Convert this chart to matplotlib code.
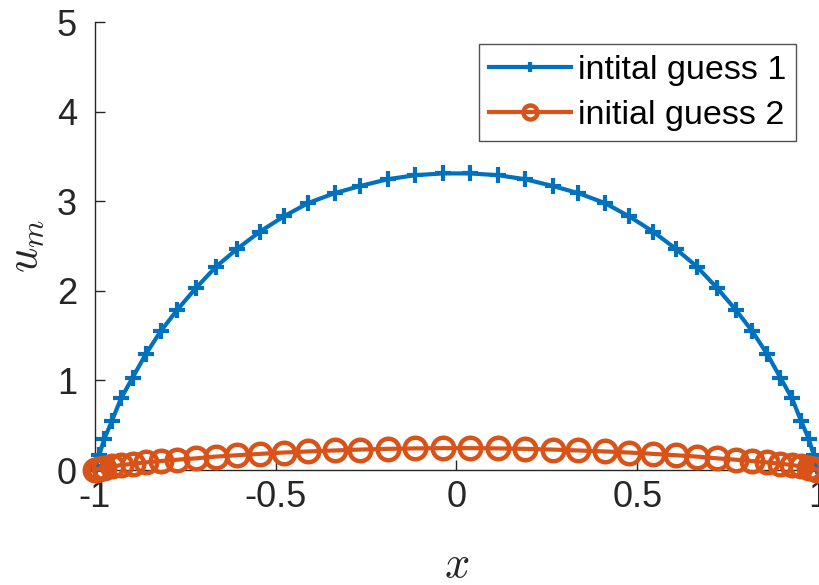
import numpy as np
import matplotlib
matplotlib.use("Agg")
import matplotlib.pyplot as plt

# Chebyshev-type node positions (42 points)
x_nodes = [-1.000, -0.997, -0.988, -0.974, -0.953, -0.928, -0.896, -0.860, -0.818, -0.772,
           -0.721, -0.665, -0.606, -0.544, -0.478, -0.410, -0.337, -0.266, -0.190, -0.115,
           -0.038, 0.038, 0.115, 0.190, 0.266, 0.337, 0.410, 0.478, 0.544, 0.606,
           0.665, 0.721, 0.772, 0.818, 0.860, 0.896, 0.928, 0.953, 0.974, 0.988,
           0.997, 1.000]

guess1 = [0.00, 0.05, 0.17, 0.35, 0.55, 0.80, 1.03, 1.29, 1.55, 1.79,
          2.03, 2.27, 2.47, 2.66, 2.83, 2.98, 3.09, 3.17, 3.245, 3.29,
          3.31, 3.31, 3.29, 3.245, 3.17, 3.09, 2.98, 2.83, 2.66, 2.47,
          2.27, 2.03, 1.79, 1.55, 1.29, 1.03, 0.80, 0.55, 0.35, 0.17,
          0.05, 0.00]

guess2 = [0.000, 0.005, 0.015, 0.025, 0.040, 0.055, 0.070, 0.085, 0.100, 0.115,
          0.130, 0.150, 0.165, 0.180, 0.195, 0.207, 0.218, 0.228, 0.236, 0.241,
          0.244, 0.244, 0.241, 0.236, 0.228, 0.218, 0.207, 0.195, 0.180, 0.165,
          0.150, 0.130, 0.115, 0.100, 0.085, 0.070, 0.055, 0.040, 0.025, 0.015,
          0.005, 0.000]

labels = ["intital guess 1", "initial guess 2"]
xticks = [-1, -0.5, 0, 0.5, 1]
xticklabels = ["-1", "-0.5", "0", "0.5", "1"]
yticks = [0, 1, 2, 3, 4, 5]

plt.rcParams['font.family'] = ['Liberation Sans', 'DejaVu Sans']
plt.rcParams['mathtext.fontset'] = 'cm'

fig = plt.figure(figsize=(8.2, 5.85), dpi=100)
ax = fig.add_axes([95/820, 115/585, 723/820, 448/585])

ax.plot(x_nodes, guess1, color='#0072BD', lw=3, marker='+', ms=11, mew=3,
        label=labels[0], clip_on=False, zorder=3)
ax.plot(x_nodes, guess2, color='#D95319', lw=3, marker='o', ms=15.5, mew=3.2,
        mfc='none', label=labels[1], clip_on=False, zorder=4)

ax.set_xlim(-1, 1)
ax.set_ylim(0, 5)
ax.set_xticks(xticks)
ax.set_xticklabels(xticklabels)
ax.set_yticks(yticks)
ax.tick_params(direction='in', length=7, width=1, colors='#262626',
               labelsize=26, labelcolor='#262626')
ax.tick_params(axis='x', pad=7)
ax.tick_params(axis='y', pad=13)
for s in ['top', 'right']:
    ax.spines[s].set_visible(False)
for s in ['left', 'bottom']:
    ax.spines[s].set_color('#262626')
    ax.spines[s].set_linewidth(1)

ax.set_xlabel(r'$x$', fontsize=32, color='#262626', labelpad=22)
ax.set_ylabel(r'$u_m$', fontsize=32, color='#262626', labelpad=8)

leg = ax.legend(loc='upper right', fontsize=24.5, frameon=True, fancybox=False,
                edgecolor='#262626', handlelength=2.4, handletextpad=0.2,
                borderpad=0.3, labelspacing=0.42, borderaxespad=0.0,
                markerscale=0.65, bbox_to_anchor=(0.97, 0.95))
leg.get_frame().set_linewidth(1)

fig.savefig('out.png', dpi=100)
